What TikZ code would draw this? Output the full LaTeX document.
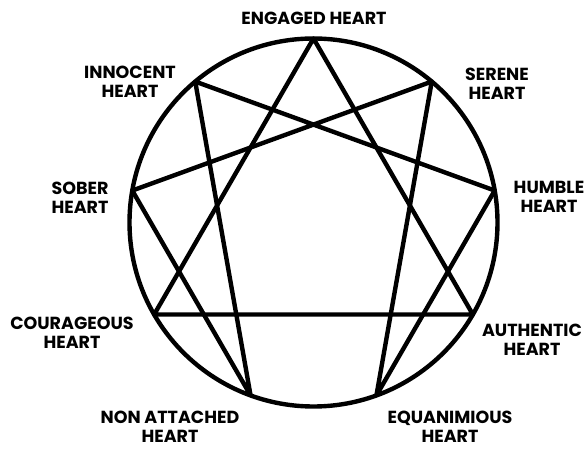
\documentclass[tikz,border=0pt]{standalone}
\usepackage{fontspec}
\setmainfont{Poppins}
\usetikzlibrary{calc}
\begin{document}
\begin{tikzpicture}[x=1pt,y=-1pt,
  ln/.style={line width=4.4pt,line join=round,line cap=round},
  lbl/.style={align=center,inner sep=0pt,font=\bfseries\fontsize{17.5}{19.5}\selectfont}]
\useasboundingbox (0,0) rectangle (587,449);
\fill[white] (0,0) rectangle (587,449);
\coordinate (c) at (313.5,222.5);
\foreach \i in {0,...,8}{
  \coordinate (p\i) at ($(c)+({184*sin(40*\i)},{-184*cos(40*\i)})$);
}
\draw[ln] (c) circle[radius=184];
% triangle 9-3-6
\draw[ln] (p0) -- (p3) -- (p6) -- cycle;
% hexad 1-4-2-8-5-7-1
\draw[ln] (p1) -- (p4) -- (p2) -- (p8) -- (p5) -- (p7) -- cycle;
\node[lbl] (l0) at (314,18) {ENGAGED HEART};
\node[lbl] (l1) at (497,84) {SERENE\\HEART};
\node[lbl] (l2) at (549,197) {HUMBLE\\HEART};
\node[lbl] (l3) at (532,340) {AUTHENTIC\\HEART};
\node[lbl] (l4) at (450,427) {EQUANIMIOUS\\HEART};
\node[lbl] (l5) at (170,427) {NON ATTACHED\\HEART};
\node[lbl] (l6) at (72,333) {COURAGEOUS\\HEART};
\node[lbl] (l7) at (80,198) {SOBER\\HEART};
\node[lbl] (l8) at (130,82) {INNOCENT\\HEART};
\end{tikzpicture}
\end{document}
